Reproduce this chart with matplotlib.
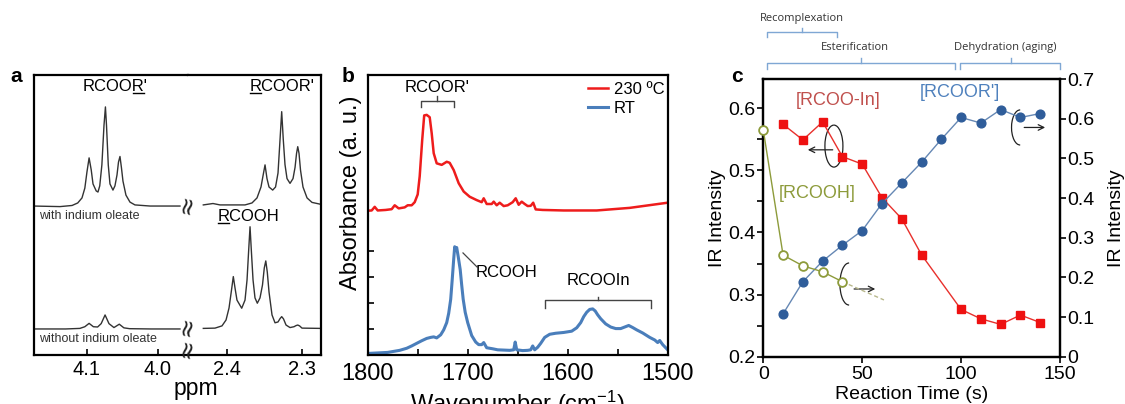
import matplotlib
matplotlib.use("Agg")
import matplotlib.pyplot as plt
from matplotlib.lines import Line2D
from matplotlib.patches import Arc
from matplotlib.ticker import FormatStrFormatter
import matplotlib.transforms as mtransforms

plt.rcParams["font.family"] = ["Liberation Sans", "DejaVu Sans"]
plt.rcParams["mathtext.fontset"] = "custom"
plt.rcParams["mathtext.rm"] = "Liberation Sans"
plt.rcParams["mathtext.it"] = "Liberation Sans:italic"

# ---------------- data ----------------
# (a) 1H NMR traces: (ppm, intensity)
with_in_ester_ch2o = [
    (4.175, 0.532), (4.138, 0.530), (4.121, 0.534), (4.113, 0.543), (4.107, 0.561),
    (4.103, 0.596), (4.100, 0.654), (4.097, 0.704), (4.094, 0.661), (4.0915, 0.611),
    (4.087, 0.586), (4.0845, 0.582), (4.082, 0.604), (4.079, 0.679), (4.076, 0.821),
    (4.074, 0.886), (4.0725, 0.821), (4.070, 0.679), (4.0676, 0.611), (4.0634, 0.589),
    (4.0606, 0.604), (4.0577, 0.643), (4.0556, 0.689), (4.0535, 0.709), (4.0514, 0.668),
    (4.0493, 0.621), (4.0451, 0.571), (4.0394, 0.546), (4.0324, 0.536), (4.011, 0.532),
    (3.969, 0.532),
]
without_in_ester_ch2o = [
    (4.175, 0.093), (4.130, 0.093), (4.110, 0.095), (4.103, 0.101), (4.097, 0.113),
    (4.091, 0.101), (4.085, 0.100), (4.080, 0.112), (4.0745, 0.143), (4.069, 0.112),
    (4.062, 0.098), (4.0545, 0.110), (4.048, 0.097), (4.040, 0.094), (4.010, 0.093),
    (3.969, 0.093),
]
with_in_ester_ch2co = [
    (2.4316, 0.536), (2.4187, 0.541), (2.4093, 0.536), (2.376, 0.536), (2.3667, 0.543),
    (2.360, 0.561), (2.3547, 0.600), (2.352, 0.640), (2.3493, 0.679), (2.3467, 0.630),
    (2.344, 0.600), (2.3391, 0.589), (2.3353, 0.600), (2.332, 0.650), (2.3293, 0.770),
    (2.3271, 0.869), (2.325, 0.770), (2.3227, 0.680), (2.320, 0.630), (2.316, 0.613),
    (2.312, 0.630), (2.3093, 0.670), (2.3073, 0.720), (2.3057, 0.744), (2.304, 0.720),
    (2.302, 0.660), (2.2987, 0.600), (2.2933, 0.561), (2.2867, 0.545), (2.2747, 0.538),
]
without_in_acid_ch2co = [
    (2.4316, 0.095), (2.416, 0.096), (2.4067, 0.104), (2.4013, 0.125), (2.3973, 0.168),
    (2.394, 0.232), (2.3916, 0.280), (2.3893, 0.239), (2.3867, 0.196), (2.3804, 0.167),
    (2.376, 0.196), (2.3733, 0.268), (2.3711, 0.375), (2.3693, 0.458), (2.3676, 0.375),
    (2.3653, 0.268), (2.3627, 0.204), (2.3596, 0.185), (2.356, 0.204), (2.3527, 0.250),
    (2.3503, 0.311), (2.3483, 0.336), (2.3463, 0.296), (2.344, 0.225), (2.340, 0.143),
    (2.336, 0.115), (2.332, 0.118), (2.3293, 0.130), (2.3271, 0.137), (2.3247, 0.129),
    (2.3213, 0.107), (2.316, 0.098), (2.3107, 0.101), (2.308, 0.105), (2.3057, 0.107),
    (2.3033, 0.104), (2.300, 0.096), (2.2747, 0.095),
]

# (b) FTIR spectra: (wavenumber, absorbance)
ir_230C = [
    (1800, 0.557), (1796, 0.558), (1793, 0.572), (1790, 0.558), (1782, 0.560),
    (1776, 0.563), (1773, 0.578), (1769, 0.566), (1763, 0.570), (1760, 0.578),
    (1756, 0.578), (1753, 0.590), (1750, 0.620), (1748, 0.690), (1745.5, 0.830),
    (1743.5, 0.925), (1741, 0.927), (1738, 0.918), (1736, 0.856), (1734, 0.779),
    (1731, 0.740), (1726, 0.734), (1721, 0.746), (1718, 0.742), (1714, 0.714),
    (1709, 0.663), (1704, 0.631), (1698, 0.611), (1691, 0.598), (1686, 0.590),
    (1684, 0.605), (1681, 0.583), (1676, 0.583), (1674, 0.592), (1671, 0.578),
    (1668, 0.588), (1664, 0.575), (1660, 0.578), (1655, 0.590), (1652, 0.605),
    (1649, 0.580), (1646, 0.592), (1643, 0.583), (1640, 0.575), (1637, 0.576),
    (1634.5, 0.588), (1632, 0.562), (1625, 0.560), (1604, 0.558), (1571, 0.558),
    (1538, 0.568), (1500, 0.588),
]
ir_RT = [
    (1800, 0.006), (1790, 0.008), (1780, 0.010), (1774, 0.014), (1768, 0.018),
    (1761, 0.026), (1756, 0.035), (1751, 0.045), (1746, 0.055), (1741, 0.064),
    (1737, 0.068), (1734, 0.070), (1731, 0.066), (1727, 0.078), (1724, 0.097),
    (1721, 0.125), (1719, 0.161), (1717, 0.215), (1715.5, 0.290), (1714, 0.370),
    (1713, 0.418), (1712, 0.410), (1711, 0.415), (1709.5, 0.380), (1707.5, 0.330),
    (1706, 0.270), (1704.5, 0.215), (1702.5, 0.165), (1700, 0.125), (1696, 0.075),
    (1692, 0.050), (1689, 0.040), (1686, 0.040), (1684, 0.048), (1681, 0.028),
    (1675, 0.024), (1670, 0.020), (1664, 0.019), (1658, 0.018), (1654, 0.020),
    (1652.5, 0.050), (1651, 0.020), (1645, 0.017), (1640, 0.018), (1637, 0.020),
    (1635, 0.035), (1633, 0.020), (1630, 0.030), (1627, 0.045), (1623, 0.068),
    (1618, 0.080), (1612, 0.084), (1604, 0.087), (1596, 0.092), (1591, 0.105),
    (1587, 0.125), (1584, 0.148), (1581, 0.165), (1578, 0.176), (1575, 0.178),
    (1572.5, 0.170), (1570, 0.155), (1567, 0.140), (1562, 0.120), (1557, 0.108),
    (1552, 0.102), (1547, 0.102), (1543, 0.108), (1539, 0.114), (1535, 0.106),
    (1531, 0.097), (1525, 0.085), (1518, 0.068), (1513, 0.058), (1510, 0.048),
    (1508, 0.056), (1505, 0.040), (1502, 0.028), (1500, 0.020),
]

# (c) IR intensities vs reaction time
time_rcoo_in = [10, 20, 30, 40, 50, 60, 70, 80, 100, 110, 120, 130, 140]
rcoo_in = [0.574, 0.549, 0.578, 0.522, 0.510, 0.456, 0.422, 0.364, 0.276, 0.261, 0.252, 0.267, 0.255]
time_rcoor = [10, 20, 30, 40, 50, 60, 70, 80, 90, 100, 110, 120, 130, 140]
rcoor = [0.108, 0.189, 0.241, 0.281, 0.318, 0.386, 0.438, 0.490, 0.548, 0.603, 0.589, 0.623, 0.603, 0.613]
time_rcooh = [0, 10, 20, 30, 40]
rcooh = [0.571, 0.256, 0.229, 0.214, 0.189]
rcooh_trend_time = [40, 61]
rcooh_trend = [0.189, 0.143]

# ---------------- figure ----------------
W, H = 1125, 404
fig = plt.figure(figsize=(W / 100, H / 100), dpi=100)


def px_box(x0, x1, y0, y1):
    return [x0 / W, 1 - y1 / H, (x1 - x0) / W, (y1 - y0) / H]


def unzip(pts):
    return [p[0] for p in pts], [p[1] for p in pts]


def style_spines(ax, lw=1.6):
    for s in ax.spines.values():
        s.set_linewidth(lw)
        s.set_color("black")


def underlined(ax, x, y, s, idx, **kw):
    t = ax.text(x, y, s, ha="center", va="center", **kw)
    r = fig.canvas.get_renderer()
    bb = t.get_window_extent(r)
    prop = t.get_fontproperties()
    w0, _, _ = r.get_text_width_height_descent(s[:idx], prop, ismath=False)
    w1, _, _ = r.get_text_width_height_descent(s[:idx + 1], prop, ismath=False)
    _, _, d = r.get_text_width_height_descent("lp", prop, ismath=False)
    yl = bb.y0 + d - 1.8
    inv = fig.transFigure.inverted()
    (fx0, fy), (fx1, _) = inv.transform([(bb.x0 + w0 + 0.5, yl), (bb.x0 + w1 - 0.5, yl)])
    fig.add_artist(Line2D([fx0, fx1], [fy, fy], color=kw.get("color", "black"), lw=1.0))
    return t


def bracket(ax, x0, x1, xc, y, drop, rise, color, lw=1.0, transform=None):
    tr = transform if transform is not None else ax.transData
    ax.plot([x0, x0, x1, x1], [y - drop, y, y, y - drop], color=color, lw=lw,
            transform=tr, clip_on=False, solid_joinstyle="round")
    ax.plot([xc, xc], [y, y + rise], color=color, lw=lw, transform=tr, clip_on=False)


# ===== panel a =====
nmr_color = "#333333"
axL = fig.add_axes(px_box(34, 188, 75, 355))
axR = fig.add_axes(px_box(188, 321, 75, 355))
for ax in (axL, axR):
    ax.set_ylim(0, 1)
    ax.set_yticks([])
    style_spines(ax)
    ax.tick_params(axis="x", direction="in", length=4, width=1.2, labelsize=14.5, pad=3.5)
    ax.xaxis.set_major_formatter(FormatStrFormatter("%.1f"))
axL.set_xlim(4.1746, 3.9577)
axL.set_xticks([4.1, 4.0])
axL.spines["right"].set_visible(False)
axR.set_xlim(2.452, 2.2747)
axR.set_xticks([2.4, 2.3])
axR.spines["left"].set_visible(False)

for pts in (with_in_ester_ch2o, without_in_ester_ch2o):
    x, y = unzip(pts)
    axL.plot(x, y, color=nmr_color, lw=1.0)
for pts in (with_in_ester_ch2co, without_in_acid_ch2co):
    x, y = unzip(pts)
    axR.plot(x, y, color=nmr_color, lw=1.0)

underlined(axL, 4.0606, 0.958, "RCOOR'", 4, fontsize=12)
underlined(axR, 2.327, 0.958, "RCOOR'", 0, fontsize=12)
underlined(axR, 2.3716, 0.494, "RCOOH", 0, fontsize=12)
axL.text(4.1676, 0.4975, "with indium oleate", fontsize=9, va="center", ha="left", color="#333333")
axL.text(4.1676, 0.056, "without indium oleate", fontsize=9, va="center", ha="left", color="#333333")

for yb in (204, 326, 348):
    fig.text(187.5 / W, 1 - yb / H, "\u2248", rotation=78, ha="center", va="center",
             fontsize=17, family="DejaVu Sans", color="#222222")
fig.text(196 / W, 1 - 395 / H, "ppm", ha="center", va="baseline", fontsize=16.5)
fig.text(16 / W, 1 - 76 / H, "a", ha="center", va="center", fontsize=15, fontweight="bold")

# ===== panel b =====
axb = fig.add_axes(px_box(367.7, 667.7, 75, 355))
style_spines(axb)
axb.set_xlim(1800, 1500)
axb.set_ylim(0, 1.081)
axb.set_xticks([1800, 1700, 1600, 1500])
axb.set_xticks([1750, 1650, 1550], minor=True)
axb.set_yticks([0.1, 0.2, 0.3, 0.4])
axb.tick_params(axis="both", which="both", direction="in", length=4, width=1.2)
axb.tick_params(axis="y", labelleft=False)
axb.tick_params(axis="x", labelsize=17, pad=6)

x, y = unzip(ir_RT)
axb.plot(x, y, color="#4a7ebb", lw=2.2, label="RT", solid_joinstyle="round")
x, y = unzip(ir_230C)
axb.plot(x, y, color="#ee1c1c", lw=1.8, label="230 \u00baC", solid_joinstyle="round")
h, l = axb.get_legend_handles_labels()
axb.legend(h[::-1], l[::-1], loc="upper right", bbox_to_anchor=(0.99, 0.975), frameon=False,
           fontsize=12, handlelength=1.2, handletextpad=0.35, labelspacing=0.25,
           borderpad=0, borderaxespad=0)

axb.set_xlabel("Wavenumber (cm$^{\\mathrm{-1}}$)", fontsize=17)
axb.xaxis.set_label_coords(0.5, -0.12)
axb.set_ylabel("Absorbance (a. u.)", fontsize=17)
axb.yaxis.set_label_coords(-0.02, 0.58)

ann = "#444444"
axb.text(1730.7, 1.031, "RCOOR'", ha="center", va="center", fontsize=12)
bracket(axb, 1747, 1714, 1730.4, 0.982, 0.023, 0.018, ann)
axb.text(1660.7, 0.320, "RCOOH", ha="center", va="center", fontsize=12)
axb.plot([1704.7, 1690.7], [0.394, 0.340], color=ann, lw=0.9)
axb.text(1569.7, 0.286, "RCOOIn", ha="center", va="center", fontsize=12)
bracket(axb, 1623, 1517, 1569.7, 0.212, 0.031, 0.013, ann)
fig.text(348 / W, 1 - 76 / H, "b", ha="center", va="center", fontsize=15, fontweight="bold")

# ===== panel c =====
axc = fig.add_axes(px_box(763.3, 1060, 79, 356.7))
axc2 = axc.twinx()
for ax in (axc, axc2):
    style_spines(ax)
axc.set_xlim(0, 150)
axc.set_ylim(0.2, 0.647)
axc.set_xticks([0, 50, 100, 150])
axc.set_yticks([0.2, 0.3, 0.4, 0.5, 0.6])
axc.set_yticks([0.25, 0.35, 0.45, 0.55], minor=True)
axc.yaxis.set_major_formatter(FormatStrFormatter("%g"))
axc.tick_params(axis="both", which="both", direction="out", length=4, width=1.2,
                labelsize=14, pad=1.5)
axc.tick_params(axis="x", pad=2.5)
axc2.set_ylim(0, 0.7)
axc2.set_yticks([0, 0.1, 0.2, 0.3, 0.4, 0.5, 0.6, 0.7])
axc2.yaxis.set_major_formatter(FormatStrFormatter("%g"))
axc2.tick_params(axis="y", direction="out", length=4, width=1.2, labelsize=14, pad=1.5)

axc.plot(time_rcoo_in, rcoo_in, color="#e8302c", lw=1.0, marker="s", ms=6,
         mfc="#ee1111", mec="#ee1111", clip_on=False, zorder=3)
axc2.plot(time_rcoor, rcoor, color="#6688b4", lw=1.0, marker="o", ms=6.3,
          mfc="#2f5d9a", mec="#2f5d9a", clip_on=False, zorder=3)
axc2.plot(rcooh_trend_time, rcooh_trend, color="#b9b98e", lw=1.0, ls=(0, (3, 2)), zorder=2)
axc2.plot(time_rcooh, rcooh, color="#8d9b3b", lw=1.0, marker="o", ms=6.3, mfc="white",
          mec="#8d9b3b", mew=1.3, clip_on=False, zorder=3)

axc.set_xlabel("Reaction Time (s)", fontsize=14)
axc.xaxis.set_label_coords(0.5, -0.105)
axc.set_ylabel("IR Intensity", fontsize=14)
axc.yaxis.set_label_coords(-0.125, 0.5)
axc2.set_ylabel("IR Intensity", fontsize=14)
axc2.yaxis.set_label_coords(1.162, 0.5)

axc.text(37.8, 0.613, "[RCOO-In]", color="#c0504d", fontsize=13, ha="center", va="center")
axc.text(99.4, 0.625, "[RCOOR']", color="#4f81bd", fontsize=13, ha="center", va="center")
axc.text(27.0, 0.462, "[RCOOH]", color="#8d9b3b", fontsize=13, ha="center", va="center")

# rotation markers pointing to the relevant y axis
arc_kw = dict(color="#222222", lw=0.9)
axc.add_patch(Arc((35.7, 0.539), 9.1, 0.0676, theta1=80, theta2=400, **arc_kw))
axc.annotate("", xy=(21.1, 0.533), xytext=(36.5, 0.533),
             arrowprops=dict(arrowstyle="->", color="#222222", lw=0.9))
axc.add_patch(Arc((43.3, 0.317), 9.1, 0.0676, theta1=20, theta2=340, **arc_kw))
axc.annotate("", xy=(58.0, 0.309), xytext=(44.5, 0.309),
             arrowprops=dict(arrowstyle="->", color="#222222", lw=0.9))
axc.add_patch(Arc((129.8, 0.569), 8.6, 0.0564, theta1=20, theta2=340, **arc_kw))
axc.annotate("", xy=(143.9, 0.569), xytext=(130.5, 0.569),
             arrowprops=dict(arrowstyle="->", color="#222222", lw=0.9))

# reaction stages above the plot
stage_tr = mtransforms.blended_transform_factory(axc.transData, axc.transAxes)
stage_col = "#7fa7d4"
bracket(axc, 1.7, 37.3, 19.5, 1.168, 0.016, 0.016, stage_col, lw=1.0, transform=stage_tr)
bracket(axc, 1.7, 97.0, 49.5, 1.057, 0.021, 0.019, stage_col, lw=1.0, transform=stage_tr)
bracket(axc, 99.5, 150.0, 125.4, 1.057, 0.021, 0.019, stage_col, lw=1.0, transform=stage_tr)
stage_font = dict(fontsize=8, family="Open Sans", color="#333333", ha="center", va="center",
                  transform=stage_tr, clip_on=False)
axc.text(19.5, 1.219, "Recomplexation", **stage_font)
axc.text(46.1, 1.113, "Esterification", **stage_font)
axc.text(122.4, 1.113, "Dehydration (aging)", **stage_font)
fig.text(737 / W, 1 - 77 / H, "c", ha="center", va="center", fontsize=15, fontweight="bold")

fig.savefig("out.png", dpi=100)
